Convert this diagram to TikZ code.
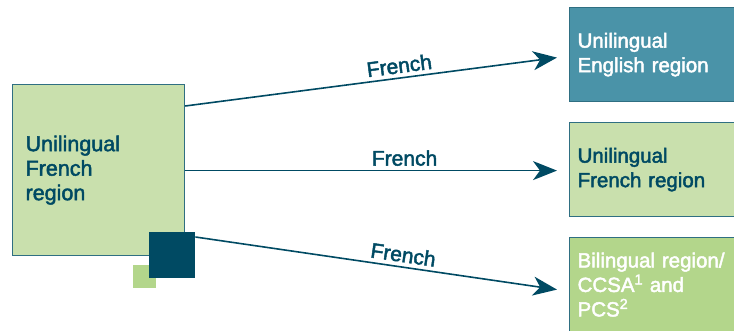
\documentclass[tikz,border=0pt]{standalone}
\usepackage{fontspec}
\setmainfont{Liberation Sans}[FakeBold=2.2]
\usetikzlibrary{arrows.meta,calc}
\definecolor{dark}{HTML}{004A63}
\definecolor{lgreen}{HTML}{C9E0AD}
\definecolor{teal}{HTML}{4A93A8}
\definecolor{mgreen}{HTML}{B3D68B}
\definecolor{edge}{HTML}{2F6F82}
\tikzset{
  region/.style={draw=edge, line width=1.2pt, anchor=north west, inner xsep=8pt,
    text width=159pt, align=left, font=\fontsize{20.5}{24.5}\selectfont},
  conn/.style={dark, line width=1.6pt, -{Stealth[length=24pt, width=19pt, inset=7pt]}},
  lbl/.style={text=dark, font=\fontsize{21}{24}\selectfont, sloped, above=2pt, inner sep=2pt}
}
\begin{document}
\begin{tikzpicture}[x=1pt,y=-1pt]
\useasboundingbox (0,0) rectangle (734,331);
% left box
\node[region, fill=lgreen, draw=edge, text=dark, minimum width=172pt, minimum height=171pt,
  text width=146pt, inner xsep=13pt, font=\fontsize{21.5}{24.5}\selectfont] (L) at (12,84) {Unilingual\\French\\region};
% small squares
\node[fill=mgreen, minimum size=23pt, inner sep=0pt, anchor=north west] (S) at (133,265) {};
\node[fill=dark, minimum size=46pt, inner sep=0pt, anchor=north west] (D) at (149,232) {};
% right boxes
\node[region, fill=teal, text=white, minimum width=175pt, minimum height=94pt] (E) at (569,7) {Unilingual\\English region};
\node[region, fill=lgreen, text=dark, minimum width=175pt, minimum height=94pt] (F) at (569,122) {Unilingual\\French region};
\node[region, fill=mgreen, text=white, minimum width=175pt, minimum height=94pt] (B) at (569,237) {Bilingual region/\\CCSA\textsuperscript{1} and\\PCS\textsuperscript{2}};
% connectors
\draw[conn] ($(L.north east)+(0,22)$) -- node[lbl, pos=0.58] {French} ($(E.west)+(-12,3)$);
\draw[conn] ($(L.east)+(0,0.5)$) -- node[lbl, pos=0.59] {French} ($(F.west)+(-12,1)$);
\draw[conn] ($(D.north east)+(0,5)$) -- node[lbl, pos=0.57] {French} ($(B.west)+(-12,5)$);
\end{tikzpicture}
\end{document}
